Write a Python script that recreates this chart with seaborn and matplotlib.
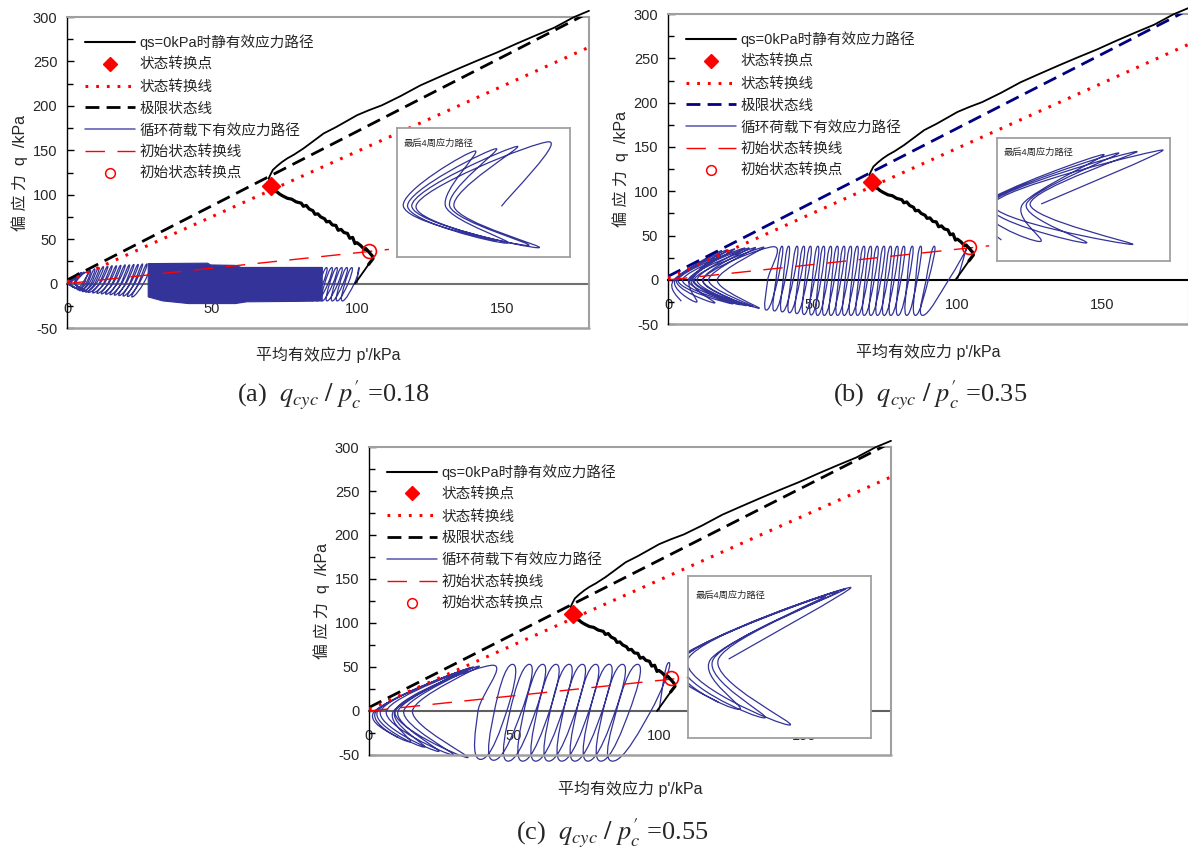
import numpy as np
import pandas as pd
import matplotlib
matplotlib.use("Agg")
import matplotlib.pyplot as plt
from matplotlib.path import Path
from matplotlib.patches import PathPatch, Polygon
from matplotlib.lines import Line2D
import seaborn as sns

sns.set_theme(style="white")
plt.rcParams["font.family"] = ["Liberation Sans", "Noto Sans CJK SC", "DejaVu Sans"]
plt.rcParams["mathtext.fontset"] = "stix"
plt.rcParams["axes.unicode_minus"] = False

nan = np.nan

# ---------------- static (monotonic, qs = 0 kPa) effective stress path ----------------
static_p = [99.3, 101.5, 104.0, 105.5, 105.3, 104.0, 103.0, 102.5, 101.2, 100.0, 99.3, 98.5,
            97.5, 96.7, 95.5, 94.5, 93.5, 92.7, 91.5, 90.5, 89.5, 88.8, 87.5, 86.5, 85.5,
            84.8, 83.5, 82.5, 81.5, 80.8, 79.0, 77.5, 76.0, 74.2, 73.2, 72.5, 71.8, 70.9,
            70.0, 69.6, 70.2, 71.0, 72.5, 74.2, 76.0, 78.2, 81.5, 84.8, 88.5, 92.7, 96.5,
            100.0, 104.0, 108.6, 115.0, 121.8, 128.0, 135.0, 141.5, 148.2, 155.0, 161.4,
            168.0, 174.6, 180.0]
static_q = [0.0, 10.0, 21.6, 28.0, 31.0, 36.0, 39.5, 38.5, 43.0, 46.0, 45.0, 52.0,
            51.0, 56.5, 57.5, 61.0, 60.0, 65.5, 66.0, 70.0, 69.5, 73.0, 75.0, 78.5, 78.0,
            82.0, 84.0, 88.0, 87.0, 90.5, 92.0, 95.0, 96.0, 99.0, 101.0, 103.0, 104.0, 106.0,
            112.0, 118.7, 123.0, 128.0, 132.5, 137.0, 141.0, 145.0, 152.0, 160.0, 169.0,
            176.0, 183.0, 189.5, 195.0, 200.7, 211.0, 223.0, 232.0, 242.0, 251.0, 260.0,
            270.0, 279.0, 288.0, 299.6, 307.0]

# reference lines (end points)
csl_p, csl_q = [0.0, 180.0], [4.0, 305.0]          # 极限状态线
stl_p, stl_q = [0.0, 180.0], [2.0, 266.0]          # 状态转换线
istl_p, istl_q = [0.0, 111.0], [0.0, 38.5]         # 初始状态转换线
pt_state = (70.5, 110.0)                           # 状态转换点
pt_init_state = (104.0, 37.0)                      # 初始状态转换点

# ---------------- cyclic paths: (a) qcyc/p'c = 0.18 ----------------
a_r_top_p = [100.7, 98.2, 96.5, 94.7, 93.0, 91.3, 89.5, 87.8]
a_r_top_q = [18, 18, 18, 18, 18, 18, 18, 18]
a_r_bot_p = [95.0, 93.2, 91.5, 89.7, 88.0, 86.3, 84.5, 83.0]
a_r_bot_q = [-19.5, -19.5, -19.5, -19.5, -19.5, -19.5, -19.5, -19.5]
a_r_pinch = [nan] * 8

a_band_p = [28, 48.5, 49.5, 58, 60, 88, 88, 80, 62, 58, 42, 33, 28]
a_band_q = [22.5, 23, 21, 20.5, 18.2, 18.2, -19.5, -20, -20.5, -22.5, -22.5, -19.5, -15]

a_l_top_p = [29.0, 27.5, 26.0, 24.5, 23.0, 21.5, 20.0, 18.5, 17.0, 15.5, 14.0, 12.5, 11.0,
             9.5, 8.0, 7.5, 6.0, 5.0, 4.0]
a_l_top_q = [22, 22, 22, 21.5, 21.5, 21, 21, 20.5, 20, 20, 19.5, 19, 18, 16.5, 15, 14, 13,
             12.5, 12]
a_l_bot_p = [22.5, 21.0, 19.5, 18.0, 16.5, 15.0, 13.5, 12.0, 10.5, 9.0, 7.5, 6.5, 5.5, 4.5,
             3.8, 7.0, 6.5, 5.5, 5.0]
a_l_bot_q = [-15, -14.5, -14, -13.5, -13, -12.5, -12, -11.5, -11, -10.5, -10, -9.5, -9, -8,
             -7, -9, -8.5, -8, -7.5]
a_l_pinch = [nan] * 15 + [1.2, 1.0, 0.8, 0.6]

# ---------------- (b) qcyc/p'c = 0.35 ----------------
b_top_p = [103.5, 92.0, 87.3, 84.4, 81.5, 79.2, 76.9, 74.6, 72.3, 70.0, 67.7, 65.4, 63.1,
           60.8, 58.5, 56.2, 53.8, 51.8, 49.2, 46.9, 44.6, 41.7, 39.4, 36.5, 33.1, 30.2,
           28.0, 26.5, 23.0, 20.5, 18.5]
b_top_q = [38, 38, 38, 38, 38, 38, 38, 38, 38, 38, 38, 38, 38, 38, 38, 38, 38, 38, 38, 38,
           38, 38, 38, 37.5, 37, 36.5, 36, 36, 35, 34, 33]
b_bot_p = [88.0, 85.5, 82.5, 79.5, 77.0, 74.7, 72.4, 70.1, 67.8, 65.5, 63.2, 60.9, 58.6,
           56.3, 54.0, 51.7, 49.5, 47.0, 44.5, 42.0, 39.5, 36.8, 34.0, 31.5, 29.3, 27.0,
           25.0, 22.4, 16.1, 9.8, 4.6]
b_bot_q = [-40, -40, -40, -40, -40, -40, -40, -40, -40, -40, -40, -40, -40, -40, -40, -40,
           -39.5, -39, -38, -37, -36, -35, -34, -32, -30, -29, -28, -27, -26, -25, -24]
b_pinch = [nan] * 23 + [12, 9, 7, 5, 3.5, 3, 2.5, 2]

# ---------------- (c) qcyc/p'c = 0.55 ----------------
c_top_p = [103.4, 92.6, 87.4, 82.8, 78.2, 73.6, 69.0, 64.5, 59.9, 55.3, 49.5, 42.7, 38.0,
           36.0, 35.0, 33.5, 31.0]
c_top_q = [55, 53, 53, 53, 53, 53, 53, 53, 53, 53, 53, 52, 51, 50, 49, 47, 44]
c_bot_p = [84.0, 80.0, 75.5, 71.0, 66.5, 62.0, 57.5, 53.0, 48.0, 43.0, 38.5, 34.0, 29.0,
           24.0, 19.0, 14.0, 10.0]
c_bot_q = [-57, -57, -57, -57, -57, -57, -57, -57, -57, -56, -55, -53, -50, -46, -41, -35, -30]
c_pinch = [nan] * 11 + [9, 6, 4, 3, 2.5, 2]

panel_tags = ["(a)", "(b)", "(c)"]
ratio_text = ["0.18", "0.35", "0.55"]
legend_labels = ["qs=0kPa时静有效应力路径", "状态转换点", "状态转换线", "极限状态线",
                 "循环荷载下有效应力路径", "初始状态转换线", "初始状态转换点"]

BLUE = "#333399"
RED = "#ff0000"


def key_points(start, top_p, top_q, bot_p, bot_q, pinch,
               bulge_d=1.2, bulge_u=-0.8, gap=2.5, tip_w=2.0):
    """Turning points of the cyclic path (tops, zero crossings, bottoms)
    plus the extra tangent that rounds each loop tip."""
    pts = [] if start is None else [start]
    extra = [] if start is None else [(0.0, 0.0)]
    tops_idx = []
    n = len(top_p)
    for k in range(n):
        tp, tq, bp, bq = top_p[k], top_q[k], bot_p[k], bot_q[k]
        pk = pinch[k]
        butterfly = np.isfinite(pk)
        tops_idx.append(len(pts))
        pts.append((tp, tq))
        extra.append((0.0, 0.0) if butterfly else (tip_w, 0.0))
        zd = pk if butterfly else 0.5 * (tp + bp) + bulge_d
        pts.append((zd, 0.0))
        extra.append((0.0, 0.0))
        pts.append((bp, bq))
        extra.append((0.6 * tip_w, 0.0) if butterfly else (-tip_w, 0.0))
        if k + 1 < n:
            zu = pk + gap if butterfly else 0.5 * (bp + top_p[k + 1]) + bulge_u
            pts.append((zu, 0.0))
            extra.append((0.0, 0.0))
    return np.asarray(pts, float), np.asarray(extra, float), tops_idx


def smooth_path(pts, extra):
    n = len(pts)
    tang = np.zeros_like(pts)
    for i in range(n):
        a = pts[i - 1] if i > 0 else pts[i]
        b = pts[i + 1] if i + 1 < n else pts[i]
        tang[i] = 0.5 * (b - a) + extra[i]
    verts = [pts[0]]
    codes = [Path.MOVETO]
    for i in range(n - 1):
        verts += [pts[i] + tang[i] / 3.0, pts[i + 1] - tang[i + 1] / 3.0, pts[i + 1]]
        codes += [Path.CURVE4] * 3
    return Path(verts, codes)


def draw_path(ax, pts, extra, lw=0.9, clip=False):
    patch = PathPatch(smooth_path(pts, extra), fill=False, ec=BLUE, lw=lw,
                      transform=ax.transData, zorder=2)
    patch.set_clip_on(clip)
    ax.add_patch(patch)


fig = plt.figure(figsize=(11.88, 8.56), dpi=100)

axes_rect = [[0.0564, 0.6168, 0.4394, 0.3633],
             [0.5623, 0.6212, 0.4385, 0.3624],
             [0.3106, 0.1180, 0.4394, 0.3598]]
inset_rect = [[0.3342, 0.6998, 0.1456, 0.1507],
              [0.8392, 0.6951, 0.1456, 0.1437],
              [0.5791, 0.1379, 0.1540, 0.1893]]
xlabel_pos = [(328 / 1188, 1 - 355 / 856), (928 / 1188, 1 - 352 / 856), (630 / 1188, 1 - 789 / 856)]
caption_pos = [(333 / 1188, 1 - 402 / 856), (930 / 1188, 1 - 402 / 856), (612 / 1188, 1 - 840 / 856)]
csl_colors = ["black", "#000080", "black"]
axis0_colors = ["#707070", "black", "#606060"]

static_df = pd.DataFrame({"p": static_p, "q": static_q})

for i in range(3):
    ax = fig.add_axes(axes_rect[i])
    ax.set_xlim(0, 180)
    ax.set_ylim(-50, 300)

    # cyclic loading paths
    if i == 0:
        pts_r, ex_r, _ = key_points((100.0, 0.0), a_r_top_p, a_r_top_q, a_r_bot_p, a_r_bot_q,
                                    a_r_pinch, tip_w=1.6)
        draw_path(ax, pts_r, ex_r)
        ax.add_patch(Polygon(np.column_stack([a_band_p, a_band_q]), closed=True,
                             fc=BLUE, ec=BLUE, lw=0.8, zorder=2))
        pts, ex, tops_idx = key_points(None, a_l_top_p, a_l_top_q, a_l_bot_p, a_l_bot_q,
                                       a_l_pinch, bulge_d=0.6, bulge_u=-0.4, gap=1.8, tip_w=1.5)
        draw_path(ax, pts, ex)
        ins_lim = ((0.3, 8.5), (-11, 17))
    elif i == 1:
        pts, ex, tops_idx = key_points((100.0, 0.0), b_top_p, b_top_q, b_bot_p, b_bot_q,
                                       b_pinch, gap=5.0, tip_w=2.5)
        draw_path(ax, pts, ex)
        ins_lim = ((4.0, 27.5), (-38, 44))
    else:
        pts, ex, tops_idx = key_points((100.0, 0.0), c_top_p, c_top_q, c_bot_p, c_bot_q, c_pinch,
                                       bulge_d=3.5, bulge_u=-3.0, gap=6.0, tip_w=6.0)
        draw_path(ax, pts, ex)
        ins_lim = ((4.0, 40.0), (-55, 58))

    # reference lines
    sns.lineplot(x=csl_p, y=csl_q, ax=ax, color=csl_colors[i], lw=2.0,
                 linestyle=(0, (5, 2.6)), zorder=3)
    sns.lineplot(x=stl_p, y=stl_q, ax=ax, color=RED, lw=2.2,
                 linestyle=(0, (0.9, 2.6)), zorder=3)
    sns.lineplot(x=istl_p, y=istl_q, ax=ax, color=RED, lw=1.0,
                 linestyle=(0, (14, 9)), zorder=4)
    sns.lineplot(data=static_df, x="p", y="q", ax=ax, sort=False, estimator=None,
                 color="black", lw=1.3, zorder=5, clip_on=False)
    sns.lineplot(data=static_df.iloc[2:39], x="p", y="q", ax=ax, sort=False, estimator=None,
                 color="black", lw=2.3, zorder=5)
    ax.plot([pt_state[0]], [pt_state[1]], marker="D", ms=9, color=RED, ls="none", zorder=6)
    ax.plot([pt_init_state[0]], [pt_init_state[1]], marker="o", ms=10, mfc="none", mec=RED,
            mew=1.2, ls="none", zorder=6)

    # frame and axes
    for s in ["top", "right"]:
        ax.spines[s].set_color("#a0a0a0")
        ax.spines[s].set_linewidth(1.5)
    ax.spines["left"].set_color("black")
    ax.spines["left"].set_linewidth(1.0)
    ax.spines["bottom"].set_position(("data", 0))
    ax.spines["bottom"].set_color(axis0_colors[i])
    ax.spines["bottom"].set_linewidth(1.5)
    ax.spines["bottom"].set_zorder(1)
    ax.plot([0, 1], [0, 0], transform=ax.transAxes, color="#a0a0a0", lw=1.8, clip_on=False)

    ax.set_xticks([0, 50, 100, 150])
    ax.set_xticks(np.arange(10, 180, 10), minor=True)
    ax.set_yticks(np.arange(-50, 301, 50))
    ax.set_yticks(np.arange(-25, 300, 50), minor=True)
    ax.tick_params(axis="x", which="major", direction="in", length=6, width=1,
                   color="black", pad=13, labelsize=10.5)
    ax.tick_params(axis="x", which="minor", direction="in", length=4, width=1, color="black")
    ax.tick_params(axis="y", which="major", direction="in", length=5, width=1,
                   color="black", pad=7, labelsize=10.5, left=True)
    ax.tick_params(axis="y", which="minor", direction="in", length=4, width=1,
                   color="black", left=True)
    ax.set_xlabel("")
    ax.set_ylabel("偏 应 力  q  /kPa", fontsize=11.5)
    ax.yaxis.set_label_coords(-0.075, 0.5)

    # legend
    handles = [
        Line2D([], [], color="black", lw=1.5),
        Line2D([], [], color=RED, marker="D", ms=7, ls="none"),
        Line2D([], [], color=RED, lw=2.2, ls=(0, (0.9, 2.6))),
        Line2D([], [], color=csl_colors[i], lw=2.0, ls=(0, (5, 2.6))),
        Line2D([], [], color="#5555b0", lw=1.1),
        Line2D([], [], color=RED, lw=1.0, ls=(0, (14, 9))),
        Line2D([], [], color=RED, marker="o", ms=7, mfc="none", mew=1.1, ls="none"),
    ]
    leg = ax.legend(handles, legend_labels, loc="upper left", bbox_to_anchor=(0.034, 0.945),
                    frameon=False, fontsize=10.5, handlelength=3.45, handletextpad=0.3,
                    labelspacing=0.54, borderpad=0, borderaxespad=0)
    leg.set_zorder(10)

    # inset: last four cycles
    ins = fig.add_axes(inset_rect[i])
    start = tops_idx[-4] - 1
    draw_path(ins, pts[start:], ex[start:], lw=0.9, clip=True)
    ins.set_xlim(*ins_lim[0])
    ins.set_ylim(*ins_lim[1])
    ins.set_xticks([])
    ins.set_yticks([])
    for s in ins.spines.values():
        s.set_color("#a0a0a0")
        s.set_linewidth(1.3)
    ins.text(0.04, 0.88, "最后4周应力路径", transform=ins.transAxes, fontsize=6.7,
             ha="left", va="center")

    # axis title and caption
    fig.text(*xlabel_pos[i], "平均有效应力 p'/kPa", fontsize=11.5, ha="center", va="center")
    fig.text(*caption_pos[i], panel_tags[i] + "  $q_{cyc}\\ /\\ p^{\\prime}_{c}$ =" + ratio_text[i],
             fontsize=19, family="Liberation Serif", ha="center", va="baseline")

fig.savefig("out.png", dpi=100)
